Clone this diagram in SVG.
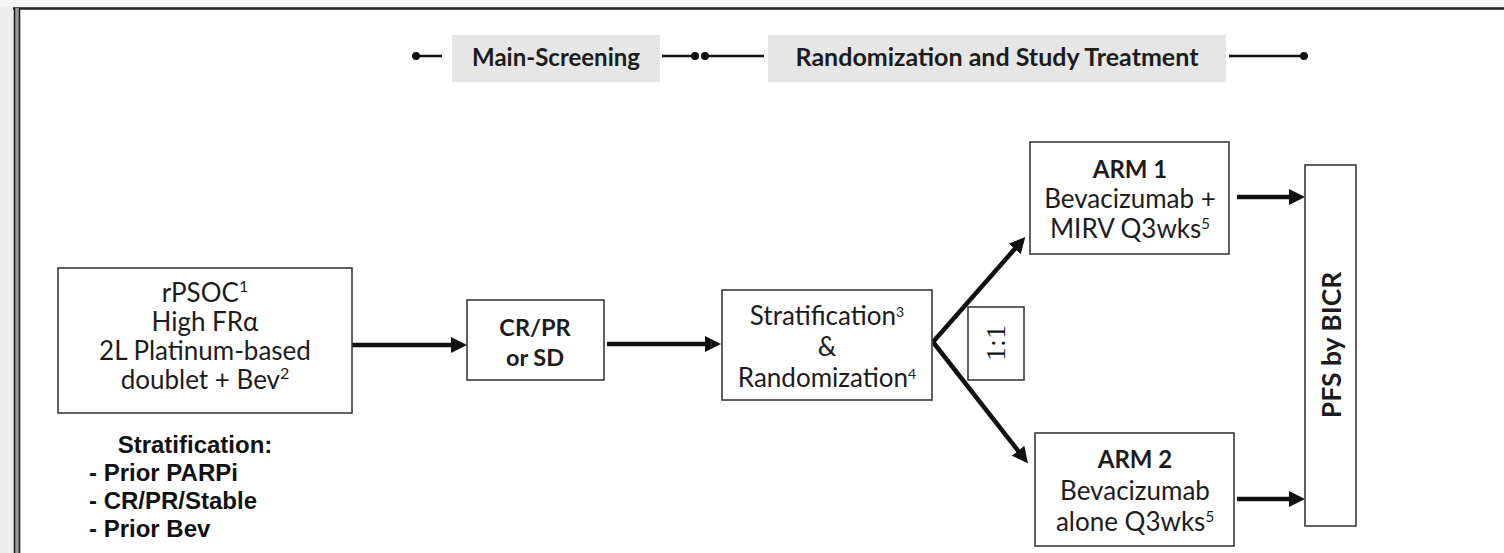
<svg xmlns="http://www.w3.org/2000/svg" width="1504" height="553" viewBox="0 0 1504 553">
  <style>
    .box { fill: #ffffff; stroke: #3a3a3a; stroke-width: 1.6; }
    .t { font-family: Lato, "Open Sans", sans-serif; fill: #1c1c1c; text-anchor: middle; }
    .reg { font-size: 26px; }
    .bold { font-weight: bold; }
    .arial { font-family: "Liberation Sans", Arial, sans-serif; font-weight: bold; fill: #111; font-size: 24px; }
    .conn { stroke: #111; stroke-width: 4.5; fill: none; marker-end: url(#head); }
    .phase { fill: #e6e6e6; }
    .tl { stroke: #111; stroke-width: 2.5; }
    .dot { fill: #111; }
  </style>
  <defs>
    <marker id="head" markerUnits="userSpaceOnUse" markerWidth="18" markerHeight="17" refX="8" refY="8" orient="auto">
      <path d="M0,0 L16,8 L0,16 z" fill="#111"/>
    </marker>
  </defs>

  <!-- page background and frame -->
  <rect x="0" y="0" width="1504" height="553" fill="#eeeeee"/>
  <rect x="0" y="0" width="1504" height="6" fill="#f6f6f6"/>
  <rect x="14" y="8" width="1490" height="545" fill="#ffffff"/>
  <line x1="13" y1="8.5" x2="1504" y2="8.5" stroke="#222" stroke-width="2.5"/>
  <rect x="14" y="8" width="5" height="545" fill="#9a9a9a"/>
  <line x1="14.5" y1="8" x2="14.5" y2="553" stroke="#222" stroke-width="1.6"/>
  <line x1="19.5" y1="8" x2="19.5" y2="553" stroke="#222" stroke-width="1.6"/>

  <!-- study phase timeline -->
  <g id="timeline">
    <circle class="dot" cx="416" cy="56" r="4"/>
    <line class="tl" x1="416" y1="56" x2="442" y2="56"/>
    <rect class="phase" x="452" y="35" width="208" height="47"/>
    <text class="t bold" x="556" y="66" font-size="24">Main-Screening</text>
    <line class="tl" x1="662" y1="56" x2="694" y2="56"/>
    <circle class="dot" cx="695" cy="56" r="4"/>
    <circle class="dot" cx="705" cy="56" r="4"/>
    <line class="tl" x1="705" y1="56" x2="764" y2="56"/>
    <rect class="phase" x="768" y="35" width="458" height="47"/>
    <text class="t bold" x="997" y="66" font-size="25">Randomization and Study Treatment</text>
    <line class="tl" x1="1229" y1="56" x2="1304" y2="56"/>
    <circle class="dot" cx="1304" cy="56" r="4"/>
  </g>

  <!-- connectors -->
  <g id="connectors">
    <path class="conn" d="M352,345 H459"/>
    <path class="conn" d="M607,344 H713"/>
    <path class="conn" d="M933,342 L1020,243"/>
    <path class="conn" d="M933,342 L1023,457"/>
    <path class="conn" d="M1237,197 H1297"/>
    <path class="conn" d="M1237,499 H1297"/>
  </g>

  <g id="population">
    <rect class="box" x="58" y="268" width="294" height="145"/>
    <text class="t reg" x="205" y="302">rPSOC<tspan font-size="16" dy="-10">1</tspan></text>
    <text class="t reg" x="205" y="331">High FRα</text>
    <text class="t reg" x="205" y="360">2L Platinum-based</text>
    <text class="t reg" x="205" y="389">doublet + Bev<tspan font-size="16" dy="-10">2</tspan></text>
  </g>

  <g id="stratification-factors">
    <text class="arial" x="195" y="453" text-anchor="middle">Stratification:</text>
    <text class="arial" x="89" y="481">- Prior PARPi</text>
    <text class="arial" x="89" y="509">- CR/PR/Stable</text>
    <text class="arial" x="89" y="537">- Prior Bev</text>
  </g>

  <g id="response">
    <rect class="box" x="467" y="300" width="137" height="80"/>
    <text class="t bold" x="535" y="336" font-size="23.5">CR/PR</text>
    <text class="t bold" x="535" y="366" font-size="23.5">or SD</text>
  </g>

  <g id="randomization">
    <rect class="box" x="722" y="290" width="210" height="110"/>
    <text class="t reg" x="827" y="325" font-size="22">Stratification<tspan font-size="14" dy="-8">3</tspan></text>
    <text class="t reg" x="827" y="356" font-size="22">&amp;</text>
    <text class="t reg" x="827" y="387" font-size="22">Randomization<tspan font-size="14" dy="-8">4</tspan></text>
  </g>

  <g id="ratio">
    <rect class="box" x="968" y="307" width="56" height="73"/>
    <text x="1005" y="343" transform="rotate(-90 1005 343)" text-anchor="middle" font-family="&quot;Liberation Serif&quot;, serif" font-size="28" fill="#111">1:1</text>
  </g>

  <g id="arm1">
    <rect class="box" x="1030" y="142" width="199" height="112"/>
    <text class="t bold" x="1130" y="178" font-size="24">ARM 1</text>
    <text class="t reg" x="1130" y="208" font-size="24.5">Bevacizumab +</text>
    <text class="t reg" x="1130" y="238" font-size="24.5">MIRV Q3wks<tspan font-size="15" dy="-9">5</tspan></text>
  </g>

  <g id="arm2">
    <rect class="box" x="1035" y="433" width="199" height="113"/>
    <text class="t bold" x="1135" y="468" font-size="24">ARM 2</text>
    <text class="t reg" x="1135" y="500" font-size="24.5">Bevacizumab</text>
    <text class="t reg" x="1135" y="531" font-size="24.5">alone Q3wks<tspan font-size="15" dy="-9">5</tspan></text>
  </g>

  <g id="endpoint">
    <rect class="box" x="1305" y="165" width="51" height="361"/>
    <text class="t bold" x="1341" y="345" font-size="26.5" transform="rotate(-90 1341 345)">PFS by BICR</text>
  </g>
</svg>
